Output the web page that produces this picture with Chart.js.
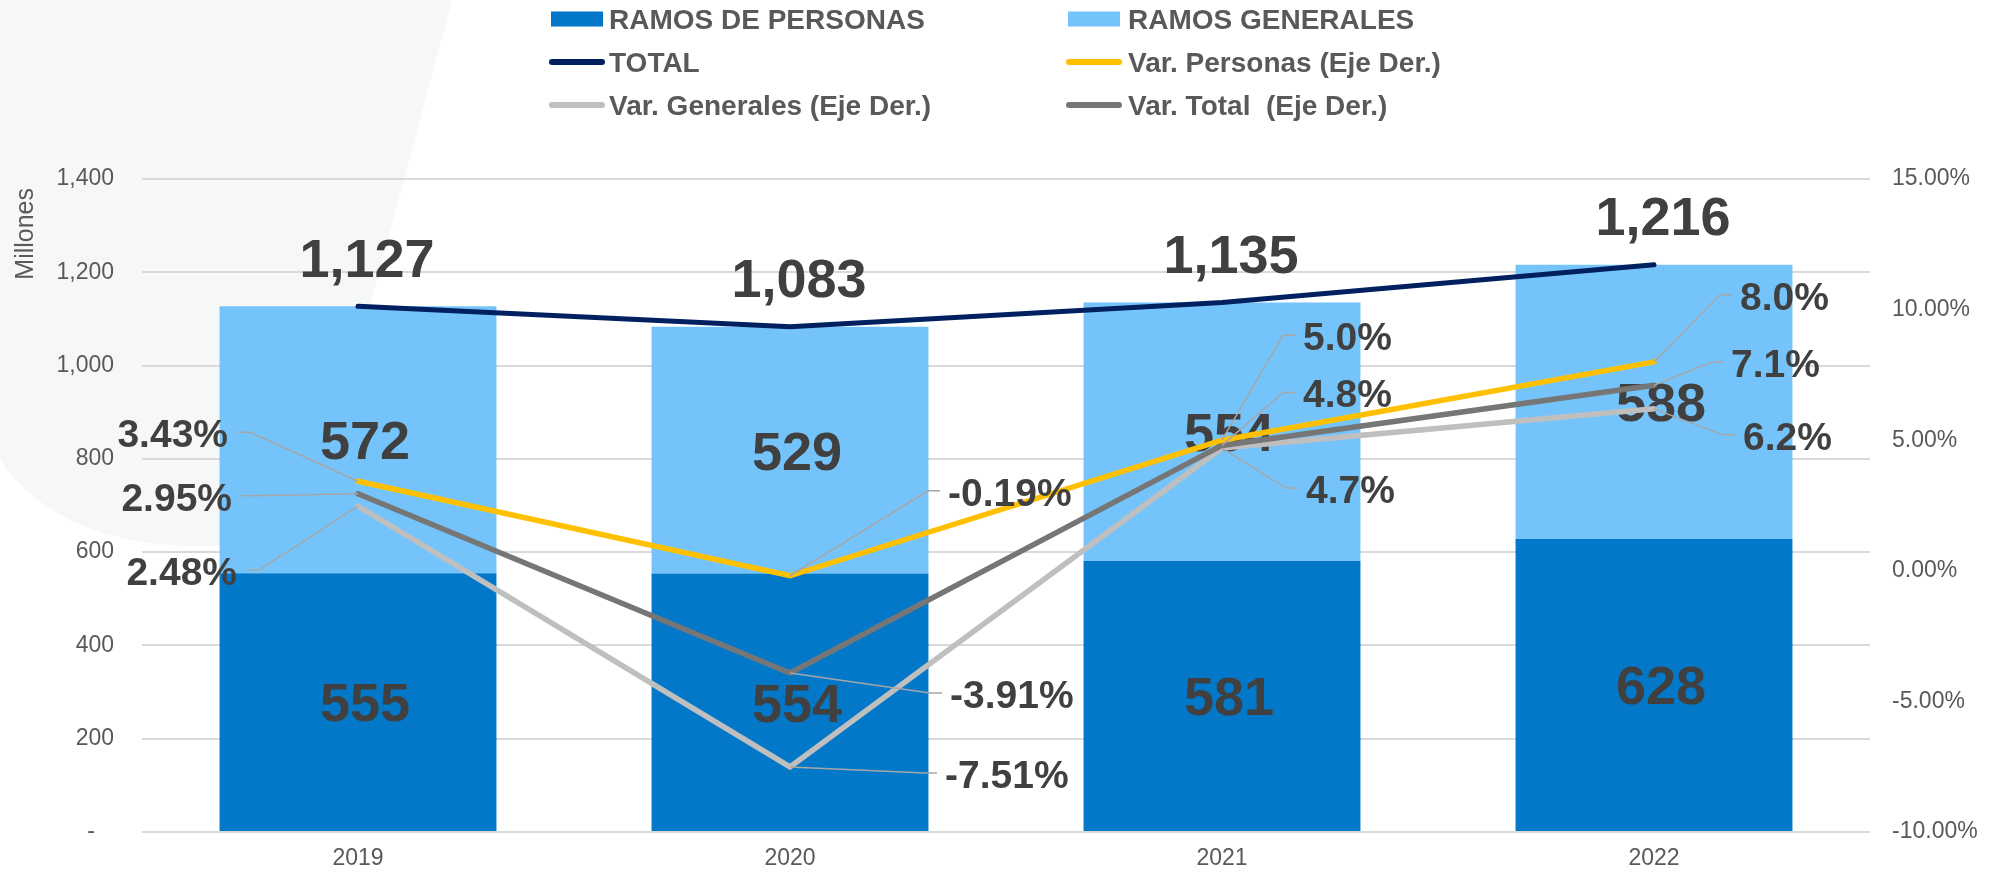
<!DOCTYPE html>
<html>
<head>
<meta charset="utf-8">
<script src="https://cdn.jsdelivr.net/npm/chart.js@4/dist/chart.umd.min.js"></script>
<style>
  html, body { margin: 0; padding: 0; background: #ffffff; }
  #wrap { width: 1992px; height: 874px; }
</style>
</head>
<body>
<div id="wrap"><canvas id="chart" width="1992" height="874"></canvas></div>
<script>
// data
var years = ['2019', '2020', '2021', '2022'];
var ramosPersonas = [555, 554, 581, 628];
var ramosGenerales = [572, 529, 554, 588];
var totalPrimas = [1127, 1083, 1135, 1216];
var varPersonas = [3.43, -0.19, 5.0, 8.0];
var varGenerales = [2.48, -7.51, 4.7, 6.2];
var varTotal = [2.95, -3.91, 4.8, 7.1];
var varDecimals = [2, 2, 1, 1];
var leftAxis = [0, 1400, 200];    // min, max, step (Millones)
var rightAxis = [-10, 15, 5];     // min, max, step (%)

// where each % label sits relative to its point (leader line anchor, px)
var offPersonas = [[-120, -49], [150, -85], [73, -105], [78, -67]];
var offGenerales = [[-111, 64], [147, 6], [76, 40], [81, 26]];
var offTotal = [[-116, 2], [152, 20], [73, -53], [69, -23]];

var FONT = "'Liberation Sans', Arial, sans-serif";
var LABEL_COLOR = '#404040';
var AXIS_COLOR = '#595959';

function fmtThousands(v) {
    return v.toLocaleString('en-US');
}

// draw text so that its cap height is centred on cy
function capText(ctx, txt, x, cy, size, align, weight) {
    ctx.font = (weight || 'bold') + ' ' + size + 'px ' + FONT;
    ctx.textAlign = align;
    ctx.textBaseline = 'alphabetic';
    ctx.fillText(txt, x, cy + size * 0.358);
}

var decorPlugin = {
    id: 'decor',
    beforeDraw: function(chart) {
        var ctx = chart.ctx;
        ctx.save();
        ctx.fillStyle = '#ffffff';
        ctx.fillRect(0, 0, chart.width, chart.height);
        // pale slide shape behind the top-left corner
        ctx.fillStyle = '#F6F7F7';
        ctx.beginPath();
        ctx.moveTo(0, 0);
        ctx.lineTo(452, 0);
        ctx.lineTo(329, 460);
        ctx.quadraticCurveTo(300, 546, 200, 546);
        ctx.quadraticCurveTo(60, 546, 0, 460);
        ctx.closePath();
        ctx.fill();
        ctx.restore();
    },
    afterDatasetDraw: function(chart, args) {
        var meta = args.meta;
        if (meta.type !== 'bar') return;
        var ctx = chart.ctx;
        var values = chart.data.datasets[args.index].data;
        ctx.save();
        ctx.fillStyle = LABEL_COLOR;
        meta.data.forEach(function(bar, j) {
            capText(ctx, String(values[j]), bar.x + 7, (bar.y + bar.base) / 2, 54, 'center');
        });
        ctx.restore();
    },
    afterDatasetsDraw: function(chart) {
        var ctx = chart.ctx;
        ctx.save();
        // totals above the navy line
        var totMeta = chart.getDatasetMeta(2);
        ctx.fillStyle = LABEL_COLOR;
        totMeta.data.forEach(function(pt, j) {
            capText(ctx, fmtThousands(totalPrimas[j]), pt.x + 9, pt.y - 49, 54, 'center');
        });
        // percentage labels with leader lines
        var groups = [[3, varPersonas, offPersonas], [4, varGenerales, offGenerales], [5, varTotal, offTotal]];
        groups.forEach(function(g) {
            var meta = chart.getDatasetMeta(g[0]);
            meta.data.forEach(function(pt, j) {
                var ax = pt.x + g[2][j][0];
                var ay = pt.y + g[2][j][1];
                var leftSide = g[2][j][0] < 0;
                var ex = leftSide ? ax + 12 : ax - 12;
                ctx.strokeStyle = '#A6A6A6';
                ctx.lineWidth = 1.5;
                ctx.beginPath();
                ctx.moveTo(pt.x, pt.y);
                ctx.lineTo(ex, ay);
                ctx.lineTo(ax, ay);
                ctx.stroke();
                var txt = g[1][j].toFixed(varDecimals[j]) + '%';
                ctx.fillStyle = LABEL_COLOR;
                if (leftSide) {
                    capText(ctx, txt, ax - 10, ay + 1, 39, 'right');
                } else {
                    capText(ctx, txt, ax + 8, ay + 1, 39, 'left');
                }
            });
        });
        ctx.restore();
    },
    afterDraw: function(chart) {
        var ctx = chart.ctx;
        ctx.save();
        // axis title, rotated, near the top of the left axis
        ctx.translate(24, 188);
        ctx.rotate(-Math.PI / 2);
        ctx.fillStyle = AXIS_COLOR;
        capText(ctx, 'Millones', 0, 0, 25, 'right', 'normal');
        ctx.restore();

        // two column legend
        var colX = [551, 1068];
        var textX = [609, 1128];
        var rowY = [19, 62, 105];
        ctx.save();
        chart.data.datasets.forEach(function(ds, i) {
            var c = i % 2;
            var y = rowY[Math.floor(i / 2)];
            if (ds.type === 'bar') {
                ctx.fillStyle = ds.backgroundColor;
                ctx.fillRect(colX[c], y - 7.5, 52, 15);
            } else {
                ctx.strokeStyle = ds.borderColor;
                ctx.lineWidth = 6;
                ctx.lineCap = 'round';
                ctx.beginPath();
                ctx.moveTo(colX[c] + 1, y);
                ctx.lineTo(colX[c] + 51, y);
                ctx.stroke();
            }
            ctx.fillStyle = AXIS_COLOR;
            capText(ctx, ds.label, textX[c], y, 28, 'left');
        });
        ctx.restore();
    }
};

var ctx = document.getElementById('chart').getContext('2d');
var chart = new Chart(ctx, {
    type: 'bar',
    data: {
        labels: years,
        datasets: [{
            type: 'bar',
            label: 'RAMOS DE PERSONAS',
            data: ramosPersonas,
            backgroundColor: '#0478C8',
            yAxisID: 'y',
            order: 10
        }, {
            type: 'bar',
            label: 'RAMOS GENERALES',
            data: ramosGenerales,
            backgroundColor: '#74C4FB',
            yAxisID: 'y',
            order: 10
        }, {
            type: 'line',
            label: 'TOTAL',
            data: totalPrimas,
            borderColor: '#002060',
            backgroundColor: '#002060',
            borderWidth: 5,
            borderCapStyle: 'round',
            pointRadius: 0,
            tension: 0,
            yAxisID: 'y',
            stack: 'total',
            order: 1
        }, {
            type: 'line',
            label: 'Var. Personas (Eje Der.)',
            data: varPersonas,
            borderColor: '#FFC000',
            backgroundColor: '#FFC000',
            borderWidth: 5.5,
            borderCapStyle: 'round',
            pointRadius: 0,
            tension: 0,
            yAxisID: 'y1',
            order: 2
        }, {
            type: 'line',
            label: 'Var. Generales (Eje Der.)',
            data: varGenerales,
            borderColor: '#BFBFBF',
            backgroundColor: '#BFBFBF',
            borderWidth: 5.5,
            borderCapStyle: 'round',
            pointRadius: 0,
            tension: 0,
            yAxisID: 'y1',
            order: 4
        }, {
            type: 'line',
            label: 'Var. Total  (Eje Der.)',
            data: varTotal,
            borderColor: '#767676',
            backgroundColor: '#767676',
            borderWidth: 5.5,
            borderCapStyle: 'round',
            pointRadius: 0,
            tension: 0,
            yAxisID: 'y1',
            order: 3
        }]
    },
    options: {
        responsive: false,
        animation: false,
        devicePixelRatio: 1,
        layout: { padding: { top: 179, bottom: 0, left: 0, right: 0 } },
        datasets: {
            bar: { barPercentage: 0.641, categoryPercentage: 1.0 }
        },
        plugins: {
            legend: { display: false },
            tooltip: { enabled: false }
        },
        scales: {
            x: {
                stacked: true,
                grid: { display: false, drawTicks: false },
                border: { display: false },
                ticks: { font: { family: FONT, size: 23 }, color: AXIS_COLOR, padding: 13 },
                afterFit: function(s) { s.height = 42; }
            },
            y: {
                stacked: true,
                position: 'left',
                min: leftAxis[0],
                max: leftAxis[1],
                ticks: {
                    stepSize: leftAxis[2],
                    font: { family: FONT, size: 23 },
                    color: AXIS_COLOR,
                    padding: 28,
                    callback: function(v) { return v === 0 ? '-   ' : fmtThousands(v); }
                },
                grid: { color: '#D9D9D9', lineWidth: 2, drawTicks: false },
                border: { display: false },
                afterFit: function(s) { s.width = 142; }
            },
            y1: {
                position: 'right',
                min: rightAxis[0],
                max: rightAxis[1],
                ticks: {
                    stepSize: rightAxis[2],
                    font: { family: FONT, size: 23 },
                    color: AXIS_COLOR,
                    padding: 22,
                    callback: function(v) { return v.toFixed(2) + '%'; }
                },
                grid: { display: false, drawTicks: false },
                border: { display: false },
                afterFit: function(s) { s.width = 122; }
            }
        }
    },
    plugins: [decorPlugin]
});
</script>
</body>
</html>
